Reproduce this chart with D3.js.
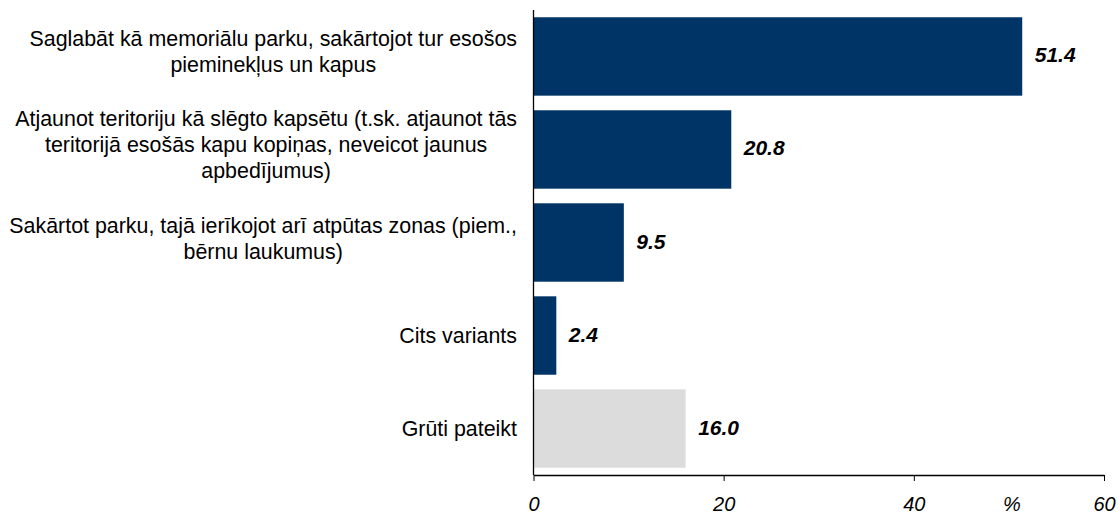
<!DOCTYPE html>
<html>
<head>
<meta charset="utf-8">
<script src="https://cdn.jsdelivr.net/npm/d3@7"></script>
<style>
  body { margin: 0; background: #fff; }
  .chart text { font-family: "Liberation Sans", Arial, sans-serif; fill: #000; }
</style>
</head>
<body>
<div class="chart"></div>
<script>
// categories (lines of each label), values, colours
var categories = [
  ["Saglabāt kā memoriālu parku, sakārtojot tur esošos", "pieminekļus un kapus"],
  ["Atjaunot teritoriju kā slēgto kapsētu (t.sk. atjaunot tās", "teritorijā esošās kapu kopiņas, neveicot jaunus", "apbedījumus)"],
  ["Sakārtot parku, tajā ierīkojot arī atpūtas zonas (piem.,", "bērnu laukumus)"],
  ["Cits variants"],
  ["Grūti pateikt"]
];
var values = [51.4, 20.8, 9.5, 2.4, 16.0];
var barColors = ["#003366", "#003366", "#003366", "#003366", "#dcdcdc"];
var xTicks = [0, 20, 40, 60];
var unitLabel = "%";

var width = 1120,
    height = 515,
    margin = {top: 10, right: 16, bottom: 40, left: 533.5};

var svg = d3.select('.chart')
  .append('svg')
  .attr('width', width)
  .attr('height', height);

var xScale = d3.scaleLinear()
  .domain([0, 60])
  .range([margin.left, width - margin.right]);

var yScale = d3.scaleBand()
  .domain(d3.range(values.length))
  .range([margin.top, height - margin.bottom])
  .paddingInner(0.157)
  .paddingOuter(0.078);

//BARS
svg.selectAll('rect.bar')
  .data(values)
  .enter()
  .append('rect')
  .attr('class', 'bar')
  .attr('x', xScale(0))
  .attr('y', (d, i) => yScale(i))
  .attr('width', (d) => xScale(d) - xScale(0))
  .attr('height', yScale.bandwidth())
  .attr('fill', (d, i) => barColors[i]);

// value labels
svg.selectAll('text.val')
  .data(values)
  .enter()
  .append('text')
  .attr('class', 'val')
  .attr('x', (d) => xScale(d) + 12.5)
  .attr('y', (d, i) => yScale(i) + yScale.bandwidth() / 2 + 6)
  .style('font-size', '21px')
  .style('font-weight', 'bold')
  .style('font-style', 'italic')
  .text((d) => d.toFixed(1));

// category labels: lines centred in a block right-aligned to the axis
var labelRight = 517, lineH = 26;
categories.forEach(function(lines, i) {
  var g = svg.append('g');
  var cy = yScale(i) + yScale.bandwidth() / 2;
  var offs = lines.length > 1 ? 3 : 7;
  var texts = lines.map(function(l, j) {
    return g.append('text')
      .attr('y', cy + offs + (j - (lines.length - 1) / 2) * lineH)
      .attr('text-anchor', 'middle')
      .style('font-size', '21.4px')
      .text(l);
  });
  var maxW = d3.max(texts, (t) => t.node().getComputedTextLength());
  texts.forEach((t) => t.attr('x', labelRight - maxW / 2));
});

//AXES
var xAxis = d3.axisBottom(xScale)
  .tickValues(xTicks)
  .tickSize(6)
  .tickSizeOuter(0)
  .tickFormat(d3.format('d'));

var gx = svg.append('g')
  .attr('transform', 'translate(0,' + (height - margin.bottom) + ')')
  .call(xAxis);
gx.select('.domain').attr('stroke', '#000').attr('stroke-width', 1.3);
gx.selectAll('.tick line').attr('stroke', '#000');
gx.selectAll('.tick text')
  .attr('dy', null)
  .attr('y', 35.5)
  .style('font-size', '20px')
  .style('font-style', 'italic')
  .style('font-family', '"Liberation Sans", Arial, sans-serif');

svg.append('line')
  .attr('x1', xScale(0)).attr('x2', xScale(0))
  .attr('y1', margin.top).attr('y2', height - margin.bottom)
  .attr('stroke', '#000')
  .attr('stroke-width', 1.3);

svg.append('text')
  .attr('x', 1012)
  .attr('y', height - margin.bottom + 35.5)
  .attr('text-anchor', 'middle')
  .style('font-size', '20px')
  .style('font-style', 'italic')
  .text(unitLabel);
</script>
</body>
</html>
